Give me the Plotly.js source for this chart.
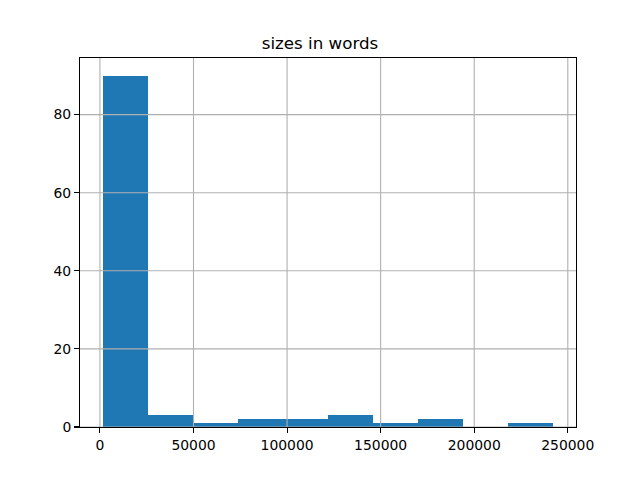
<!DOCTYPE html>
<html>
<head>
<meta charset="utf-8">
<script src="https://cdn.plot.ly/plotly-3.0.1.min.js"></script>
<style>html,body{margin:0;padding:0;background:#fff;}#chart{width:640px;height:480px;}</style>
</head>
<body>
<div id="chart"></div>
<script>
// Histogram of sizes in words: 10 equal bins
var binMin = 1400;
var binMax = 242340;
var counts = [90, 3, 1, 2, 2, 3, 1, 2, 0, 1];
var xTicks = [0, 50000, 100000, 150000, 200000, 250000];
var yTicks = [0, 20, 40, 60, 80];

var nBins = counts.length;
var w = (binMax - binMin) / nBins;
var centers = counts.map(function(_, i){ return binMin + w * (i + 0.5); });
var widths = counts.map(function(){ return w; });

var pad = (binMax - binMin) * 0.05;
var xr = [binMin - pad, binMax + pad];
var yr = [0, Math.max.apply(null, counts) * 1.05];

var grid = [];
xTicks.forEach(function(v){
  grid.push({type:'line', xref:'x', yref:'paper', x0:v, x1:v, y0:0, y1:1, layer:'above',
    line:{color:'#b0b0b0', width:1.1}});
});
yTicks.forEach(function(v){
  grid.push({type:'line', xref:'paper', yref:'y', x0:0, x1:1, y0:v, y1:v, layer:'above',
    line:{color:'#b0b0b0', width:1.1}});
});

var trace = {
  type: 'bar', x: centers, y: counts, width: widths,
  marker: {color: '#1f77b4', line: {width: 0}},
  hoverinfo: 'x+y'
};

var axisCommon = {
  showgrid: false, zeroline: false, showline: true, mirror: true,
  linecolor: '#000', linewidth: 1.1, ticks: 'outside', ticklen: 4.9, tickwidth: 1.1,
  tickcolor: '#000', tickfont: {family: 'DejaVu Sans', size: 13.9, color: '#000'}
};

var layout = {
  width: 640, height: 480,
  margin: {l: 80, r: 64, t: 58, b: 53},
  paper_bgcolor: '#fff', plot_bgcolor: '#fff',
  showlegend: false,
  bargap: 0,
  title: {text: 'sizes in words', font: {family: 'DejaVu Sans', size: 16.7, color: '#000'},
    x: 0.5, xanchor: 'center', y: 1 - 43/480, yanchor: 'middle'},
  xaxis: Object.assign({}, axisCommon, {range: xr, tickvals: xTicks,
    ticktext: xTicks.map(String)}),
  yaxis: Object.assign({}, axisCommon, {range: yr, tickvals: yTicks,
    ticktext: yTicks.map(String)}),
  shapes: grid
};

Plotly.newPlot('chart', [trace], layout, {displayModeBar: false, staticPlot: true});
</script>
</body>
</html>
